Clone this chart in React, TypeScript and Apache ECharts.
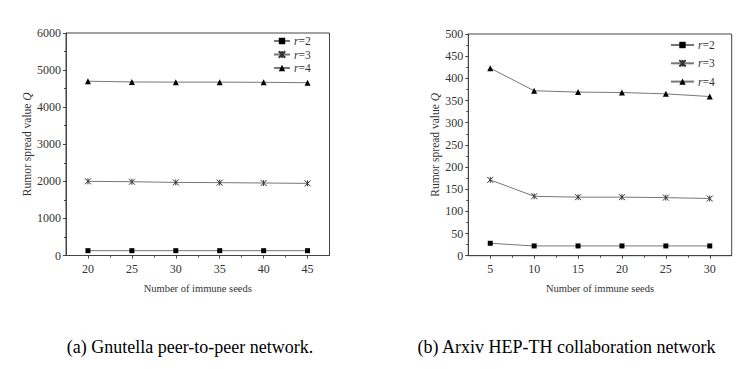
import React, { useEffect, useRef } from "react";
import * as echarts from "echarts";

const xA = [20, 25, 30, 35, 40, 45];
const a2 = [130, 130, 130, 130, 130, 130];
const a3 = [2000, 1990, 1970, 1965, 1955, 1945];
const a4 = [4700, 4680, 4675, 4675, 4670, 4660];

const xB = [5, 10, 15, 20, 25, 30];
const b2 = [28, 22, 22, 22, 22, 22];
const b3 = [171, 134, 132, 132, 131, 129];
const b4 = [423, 372, 369, 368, 365, 359];

const seriesNames = ["r=2", "r=3", "r=4"];
const xTicksA = [20, 25, 30, 35, 40, 45];
const xMinorA = [22.5, 27.5, 32.5, 37.5, 42.5];
const xTicksB = [5, 10, 15, 20, 25, 30];
const xMinorB = [7.5, 12.5, 17.5, 22.5, 27.5];
const captionA = "(a) Gnutella peer-to-peer network.";
const captionB = "(b) Arxiv HEP-TH collaboration network";
const xTitle = "Number of immune seeds";
const yTitle = "Rumor spread value {i|Q}";

const FONT = "Liberation Serif";
const STAR = "path://M0,0L10,10M10,0L0,10M5,0L5,10";

export default function App() {
  const ref = useRef<HTMLDivElement>(null);
  useEffect(() => {
    document.body.style.margin = "0";
    const chart = echarts.init(ref.current!, undefined, { renderer: "svg" });
    const labelStyle = { color: "#333", fontFamily: FONT, fontSize: 12 };
    const mkX = (gi: number, min: number, max: number, ticks: number[]) => ({
      type: "value",
      gridIndex: gi,
      min,
      max,
      interval: 2.5,
      axisLine: { show: true, lineStyle: { color: "#444", width: 1 } },
      axisTick: { show: true, customValues: ticks, length: 3, lineStyle: { color: "#444" } },
      axisLabel: { ...labelStyle, customValues: ticks, margin: 7, formatter: (v: number) => String(v) },
      splitLine: { show: false },
      name: xTitle,
      nameLocation: "middle",
      nameGap: 27,
      nameTextStyle: { ...labelStyle, fontSize: 10.5 },
    });
    const mkXMinor = (gi: number, min: number, max: number, ticks: number[]) => ({
      type: "value",
      gridIndex: gi,
      min,
      max,
      position: "bottom",
      axisLine: { show: false },
      axisTick: { show: true, customValues: ticks, length: 2, lineStyle: { color: "#444" } },
      axisLabel: { show: false },
      splitLine: { show: false },
    });
    const mkY = (gi: number, max: number, interval: number, gap: number) => ({
      type: "value",
      gridIndex: gi,
      min: 0,
      max,
      interval,
      axisLine: { show: true, lineStyle: { color: "#444", width: 1 } },
      axisTick: { show: true, length: 3, lineStyle: { color: "#444" } },
      minorTick: { show: true, splitNumber: 2, length: 2, lineStyle: { color: "#444" } },
      axisLabel: { ...labelStyle, margin: 5, formatter: (v: number) => String(v) },
      splitLine: { show: false },
      name: yTitle,
      nameLocation: "middle",
      nameGap: gap,
      nameTextStyle: { ...labelStyle, fontSize: 11.5, rich: { i: { fontStyle: "italic", fontFamily: FONT, fontSize: 11.5, color: "#333" } } },
    });
    const symbols = ["rect", STAR, "triangle"];
    const sizes = [5, 6, 6];
    const mkSeries = (gi: number, xs: number[], data: number[][], suffix: string) =>
      data.map((d, i) => ({
        name: seriesNames[i] + suffix,
        type: "line",
        xAxisIndex: gi * 2,
        yAxisIndex: gi,
        data: xs.map((x, j) => [x, d[j]]),
        symbol: symbols[i],
        symbolSize: sizes[i],
        showAllSymbol: true,
        lineStyle: { color: "#777", width: 1 },
        itemStyle: i === 1
          ? { color: "#333", borderColor: "#333", borderWidth: 1 }
          : { color: "#000", borderWidth: 0 },
      }));
    const mkLegend = (suffix: string, left: number, top: number, gap: number, w: number) => ({
      orient: "vertical",
      left,
      top,
      itemWidth: w,
      itemHeight: 8,
      itemGap: gap,
      padding: 0,
      data: seriesNames.map((n) => ({ name: n + suffix })),
      formatter: (name: string) => "{i|r}{n|" + name.trim().slice(1) + "}",
      textStyle: {
        ...labelStyle,
        fontSize: 11,
        lineHeight: 12,
        padding: [0, 0, 0, -1],
        rich: {
          i: { fontStyle: "italic", fontFamily: FONT, fontSize: 11.5, lineHeight: 12, color: "#333" },
          n: { fontFamily: FONT, fontSize: 11.5, lineHeight: 12, color: "#333" },
        },
      },
    });
    const sA = mkSeries(0, xA, [a2, a3, a4], "");
    const sB = mkSeries(1, xB, [b2, b3, b4], " ");
    chart.setOption({
      animation: false,
      backgroundColor: "#fff",
      textStyle: { fontFamily: FONT },
      grid: [
        { left: 66, top: 33, width: 263.5, height: 222.5, show: true, borderColor: "#444", borderWidth: 1, containLabel: false },
        { left: 468.3, top: 34, width: 263.4, height: 221.7, show: true, borderColor: "#444", borderWidth: 1, containLabel: false },
      ],
      xAxis: [
        mkX(0, 17.5, 47.5, xTicksA),
        mkXMinor(0, 17.5, 47.5, xMinorA),
        mkX(1, 2.5, 32.5, xTicksB),
        mkXMinor(1, 2.5, 32.5, xMinorB),
      ],
      yAxis: [mkY(0, 6000, 1000, 29), mkY(1, 500, 50, 21)],
      legend: [mkLegend("", 273, 35, 1.5, 16), mkLegend(" ", 670, 39, 6.3, 23)],
      series: [...sA, ...sB],
      graphic: [
        { type: "text", x: 190, y: 347, style: { text: captionA, fontFamily: FONT, fontSize: 18, fill: "#000", textAlign: "center", textVerticalAlign: "middle" } },
        { type: "text", x: 566.5, y: 347, style: { text: captionB, fontFamily: FONT, fontSize: 18, fill: "#000", textAlign: "center", textVerticalAlign: "middle" } },
      ],
    } as any);
    return () => chart.dispose();
  }, []);
  return <div ref={ref} style={{ width: 748, height: 369 }} />;
}
